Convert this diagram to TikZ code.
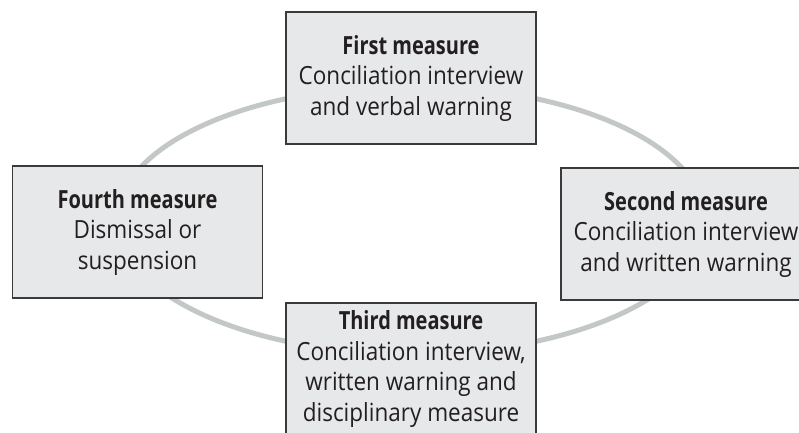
\documentclass[tikz,border=0pt]{standalone}
\usepackage{fontspec}
\setmainfont{Open Sans}[FakeStretch=0.9, BoldFeatures={FakeStretch=0.8}]
\definecolor{ringgray}{HTML}{C3C8C7}
\definecolor{boxfill}{HTML}{E7E8E9}
\definecolor{boxline}{HTML}{3A3A3A}
\definecolor{textdark}{HTML}{231F20}
\begin{document}
\begin{tikzpicture}[x=1pt,y=-1pt,
  measure/.style={draw=boxline, line width=1.1pt, fill=boxfill,
    minimum width=250pt, minimum height=132pt, inner sep=0pt,
    align=center, text=textdark,
    font=\fontsize{25}{30.5}\selectfont},
  ring/.style={draw=ringgray, line width=5pt}]
  \useasboundingbox (0,0) rectangle (799,432);
  \clip (0,0) rectangle (799,432);
  % the cycle behind the four steps
  \coordinate (hub) at (411,220);
  \draw[ring] (hub) ellipse [x radius=294pt, y radius=134pt];
  % the four measures
  \node[measure] (first) at (411,78)
    {\textbf{First measure}\\Conciliation interview\\and verbal warning};
  \node[measure] (second) at (686,234)
    {\textbf{Second measure}\\Conciliation interview\\and written warning};
  \node[measure] (third) at (411,369)
    {\textbf{Third measure}\\Conciliation interview,\\written warning and\\disciplinary measure};
  \node[measure] (fourth) at (137.5,232)
    {\textbf{Fourth measure}\\Dismissal or\\suspension};
\end{tikzpicture}
\end{document}
